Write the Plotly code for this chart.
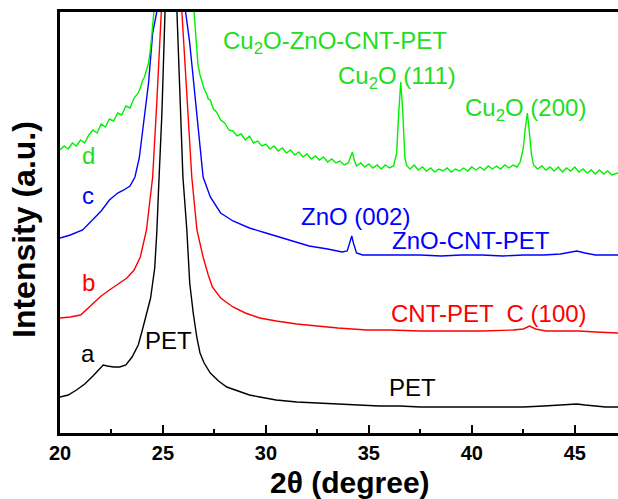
import plotly.graph_objects as go

# ---- data (2theta in degrees, intensity in arbitrary units) ----
a_x = [20, 20.4, 20.8, 21.2, 21.6, 21.9, 22.1, 22.3, 22.6, 22.9, 23.2, 23.5, 23.8, 24.0, 24.2, 24.4,
       24.6, 24.7, 24.8, 24.95, 25.1, 25.4, 25.68, 25.8, 25.97, 26.16, 26.3, 26.47, 26.65, 26.8, 27.0,
       27.3, 27.7, 28.1, 28.6, 29.2, 29.7, 30.5, 31.5, 32.5, 33.5, 34.5, 35.5, 36.5, 37.5, 38.5, 39.5,
       40.5, 41.5, 42.5, 43.5, 44.2, 44.7, 45.1, 45.5, 46.0, 46.5, 47.1]
a_y = [36, 38, 43, 49, 57, 64, 68, 67, 66, 66, 68, 76, 88, 103, 118, 135,
       165, 200, 250, 320, 421, 620, 421, 360, 256, 203, 150, 120, 95, 80, 70,
       60, 52, 46, 42, 38, 36, 33, 31, 30, 29, 28, 27, 27, 26, 26, 26,
       26, 26, 26, 27, 28, 29, 29, 28, 27, 26, 26]

b_x = [20, 20.5, 21, 21.3, 21.6, 22.0, 22.4, 22.8, 23.25, 23.6, 23.9, 24.2, 24.5, 24.7, 24.9, 25.4,
       25.92, 26.2, 26.4, 26.65, 26.95, 27.2, 27.4, 27.8, 28.4, 29.0, 29.7, 30.5, 31.5, 32.5, 33.5,
       34.9, 36.0, 37.5, 39.0, 40.5, 42.0, 42.5, 42.8, 43.1, 43.6, 44.5, 45.2, 46.0, 47.1]
b_y = [115, 116, 118, 124, 130, 137, 143, 149, 155, 163, 176, 203, 256, 330, 421, 620,
       421, 320, 256, 203, 176, 158, 146, 135, 126, 120, 115, 112, 109, 107, 105,
       103, 103, 102, 102, 102, 103, 104, 107, 104, 102, 102, 102, 101, 100]

c_x = [20, 20.5, 21.1, 21.6, 22.0, 22.4, 22.8, 23.1, 23.4, 23.64, 23.85, 24.0, 24.15, 24.3, 24.5, 24.7,
       25.4, 26.1, 26.3, 26.5, 26.8, 26.95, 27.3, 27.8, 28.4, 29.2, 30.0, 31.0, 32.1, 33.0, 33.7,
       33.95, 34.1, 34.17, 34.25, 34.4, 34.7, 35.5, 36.5, 37.5, 38.5, 39.5, 40.5, 41.5, 42.5, 43.5,
       44.3, 44.8, 45.1, 45.5, 46.0, 46.5, 47.1]
c_y = [195, 198, 203, 213, 222, 233, 240, 243, 247, 256, 275, 300, 325, 350, 400, 421,
       620, 421, 390, 350, 290, 256, 236, 220, 212, 205, 200, 194, 187, 184, 181,
       182, 192, 197, 190, 180, 178, 178, 178, 178, 177, 178, 178, 177, 178, 178,
       179, 181, 182, 180, 178, 178, 178]

d_x = [20.0, 20.2, 20.4, 20.6, 20.8, 21.0, 21.2, 21.4, 21.6, 21.8, 22.0, 22.2, 22.4, 22.6, 22.8, 23.0,
       23.2, 23.4, 23.6, 23.8, 23.9, 24.0, 24.1, 24.2, 24.3, 24.4, 24.5, 24.56, 24.7, 25.5, 26.3,
       26.5, 26.6, 26.7, 26.8, 26.9, 27.0, 27.1, 27.2, 27.3, 27.45, 27.6, 27.8, 28.0, 28.2, 28.4,
       28.6, 28.8, 29.0, 29.2, 29.4, 29.6, 29.8, 30.0, 30.2, 30.4, 30.6, 30.8, 31.0, 31.2, 31.4,
       31.6, 31.8, 32.0, 32.2, 32.4, 32.6, 32.8, 33.0, 33.2, 33.4, 33.6, 33.8, 34.0, 34.1, 34.2,
       34.3, 34.4, 34.6, 34.8, 35.0, 35.2, 35.4, 35.6, 35.8, 36.0, 36.2, 36.35, 36.45, 36.55, 36.65,
       36.75, 36.85, 37.0, 37.2, 37.4, 37.6, 37.8, 38.0, 38.2, 38.4, 38.6, 38.8, 39.0, 39.2, 39.4,
       39.6, 39.8, 40.0, 40.2, 40.4, 40.6, 40.8, 41.0, 41.2, 41.4, 41.6, 41.8, 42.0, 42.2, 42.35,
       42.5, 42.6, 42.7, 42.8, 42.9, 43.0, 43.2, 43.4, 43.6, 43.8, 44.0, 44.2, 44.4, 44.6, 44.8,
       45.0, 45.2, 45.4, 45.6, 45.8, 46.0, 46.2, 46.4, 46.6, 46.8, 47.1]
d_y = [283, 287, 284, 290, 287, 293, 290, 298, 303, 300, 309, 306, 314, 312, 320, 318,
       327, 325, 335, 340, 345, 352, 356, 362, 370, 385, 405, 421, 480, 700, 480,
       421, 392, 368, 358, 350, 344, 340, 334, 333, 324, 321, 313, 310, 303, 302,
       297, 299, 293, 297, 290, 292, 287, 289, 284, 287, 282, 285, 280, 283, 278,
       281, 276, 279, 274, 277, 273, 276, 271, 274, 270, 272, 268, 270, 276, 281,
       272, 267, 270, 266, 269, 265, 268, 264, 268, 265, 267, 280, 320, 351, 320,
       275, 267, 264, 268, 263, 266, 262, 265, 261, 264, 262, 265, 261, 264, 262,
       265, 262, 266, 263, 266, 263, 267, 264, 267, 264, 268, 265, 268, 266, 271,
       285, 305, 320, 300, 278, 268, 264, 267, 263, 266, 262, 266, 261, 265, 262,
       266, 261, 264, 260, 263, 259, 263, 259, 262, 258, 260]

x_ticks = [20, 25, 30, 35, 40, 45]

# label text, positions and colours
labels = [
    ("d", 21.36, 278, "#22dd22"),
    ("c", 21.36, 238, "#0000ff"),
    ("b", 21.36, 151, "#ff0000"),
    ("a", 21.36, 80, "#000000"),
    ("PET", 25.25, 93, "#000000"),
    ("Cu<sub>2</sub>O-ZnO-CNT-PET", 33.35, 391, "#22dd22"),
    ("Cu<sub>2</sub>O (111)", 36.36, 356, "#22dd22"),
    ("Cu<sub>2</sub>O (200)", 42.6, 324, "#22dd22"),
    ("ZnO (002)", 34.37, 217, "#0000ff"),
    ("ZnO-CNT-PET", 39.95, 193, "#0000ff"),
    ("CNT-PET  C (100)", 40.83, 120, "#ff0000"),
    ("PET", 37.14, 46, "#000000"),
]

FONT = "Liberation Sans, Arial, sans-serif"

fig = go.Figure()
for xs, ys, col in [(a_x, a_y, "#000000"), (b_x, b_y, "#ff0000"),
                    (c_x, c_y, "#0000ff"), (d_x, d_y, "#00f000")]:
    fig.add_trace(go.Scatter(x=xs, y=ys, mode="lines",
                             line=dict(color=col, width=1.4), showlegend=False,
                             hoverinfo="skip"))

for txt, x, y, col in labels:
    fig.add_annotation(x=x, y=y, xref="x", yref="y", text=txt, showarrow=False,
                       font=dict(family=FONT, size=24, color=col),
                       xanchor="center", yanchor="middle")

fig.add_annotation(x=(350 - 60) / 558, y=(433 - 482) / 421, xref="paper", yref="paper",
                   text="2θ (degree)", showarrow=False,
                   font=dict(family=FONT, size=30, color="black", weight="bold"),
                   xanchor="center", yanchor="middle")
fig.add_annotation(x=(24 - 60) / 558, y=(433 - 230) / 421, xref="paper", yref="paper",
                   text="Intensity (a.u.)", showarrow=False, textangle=-90,
                   font=dict(family=FONT, size=32, color="black", weight="bold"),
                   xanchor="center", yanchor="middle")

fig.update_layout(
    width=618, height=499,
    margin=dict(l=60, r=0, t=12, b=66),
    paper_bgcolor="white", plot_bgcolor="white",
    xaxis=dict(range=[20, 47.1], tickmode="array", tickvals=x_ticks,
               ticktext=[str(v) for v in x_ticks],
               ticks="inside", ticklen=8, tickwidth=2, tickcolor="black",
               showline=True, linewidth=2.5, linecolor="black", mirror=True,
               showgrid=False, zeroline=False,
               tickfont=dict(family=FONT, size=20, color="black", weight="bold"),
               minor=dict(ticks="inside", ticklen=4, tickwidth=2, tickcolor="black",
                          tick0=20, dtick=2.5, showgrid=False)),
    yaxis=dict(range=[0, 421], showticklabels=False, ticks="",
               showline=True, linewidth=2.5, linecolor="black",
               showgrid=False, zeroline=False),
)

fig.write_html("out.html", config={"displayModeBar": False},
               post_script="document.body.style.margin='0';document.body.style.overflow='hidden';")
